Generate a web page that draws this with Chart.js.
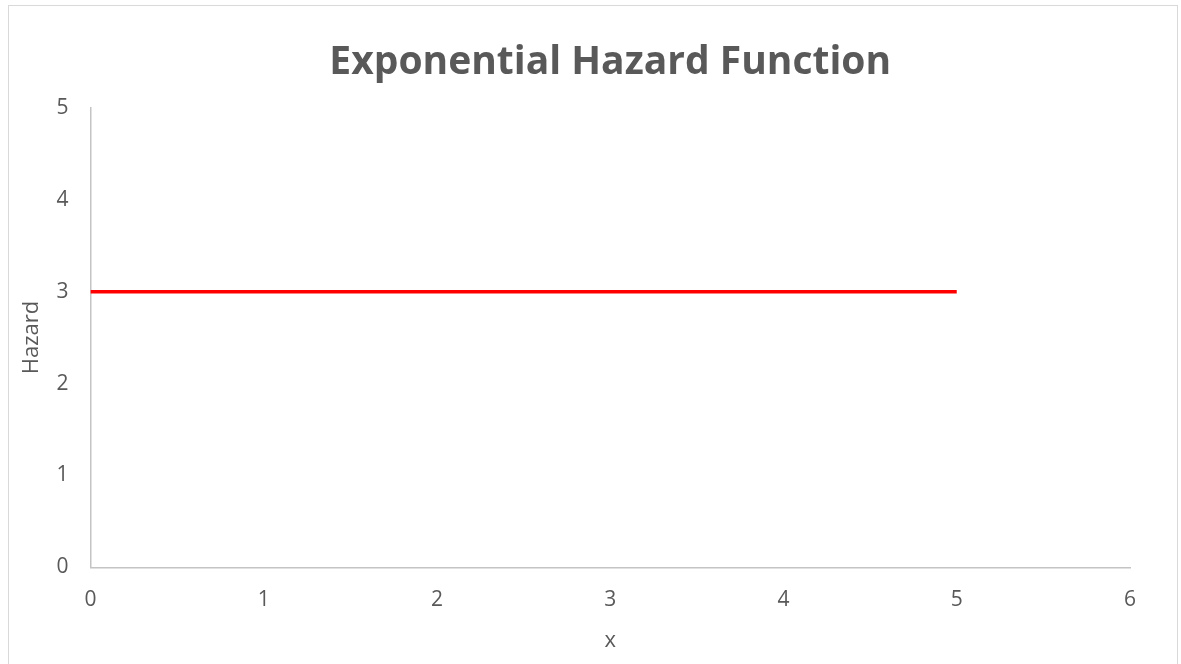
<!DOCTYPE html>
<html>
<head>
<meta charset="utf-8">
<script src="https://cdn.jsdelivr.net/npm/chart.js@4/dist/chart.umd.min.js"></script>
<style>
  html, body { margin: 0; padding: 0; background: #ffffff; overflow: hidden; }
  #frame { position: absolute; left: 8px; top: 5px; width: 1168px; height: 700px;
           border: 1px solid #d9d9d9; background: #fff; }
  #wrap { position: absolute; left: 0; top: 0; width: 1168px; height: 658px; }
</style>
</head>
<body>
<div id="frame"><div id="wrap"><canvas id="c"></canvas></div></div>
<script>
const chartTitle = 'Exponential Hazard Function';
const xAxisTitle = 'x';
const yAxisTitle = 'Hazard';
const xValues = [0, 1, 2, 3, 4, 5];
const hazardValues = [3, 3, 3, 3, 3, 3];
const xTicks = [0, 1, 2, 3, 4, 5, 6];
const yTicks = [0, 1, 2, 3, 4, 5];

const grey = '#595959';
const axisGrey = '#c4c4c4';
const fontFamily = '"Open Sans", "Liberation Sans", sans-serif';

new Chart(document.getElementById('c'), {
  type: 'line',
  data: {
    datasets: [{
      label: 'Hazard',
      data: xValues.map((x, i) => ({ x: x, y: hazardValues[i] })),
      borderColor: '#ff0000',
      borderWidth: 3.5,
      pointRadius: 0,
      fill: false,
      tension: 0
    }]
  },
  options: {
    responsive: true,
    maintainAspectRatio: false,
    animation: false,
    layout: { padding: { left: 10, right: 47, top: 0, bottom: 10 } },
    plugins: {
      legend: { display: false },
      tooltip: { enabled: false },
      title: {
        display: true,
        text: chartTitle,
        fullSize: false,
        color: grey,
        font: { family: fontFamily, size: 39, weight: 'bold' },
        padding: { top: 33, bottom: 22 }
      }
    },
    scales: {
      x: {
        type: 'linear',
        min: 0, max: 6,
        afterBuildTicks: (axis) => { axis.ticks = xTicks.map(v => ({ value: v })); },
        grid: { display: true, drawOnChartArea: false, drawTicks: false },
        border: { display: true, color: axisGrey, width: 1.5 },
        ticks: { color: grey, padding: 20, font: { family: fontFamily, size: 21 } },
        title: { display: true, text: xAxisTitle, color: grey, padding: { top: -5, bottom: 0 },
                 font: { family: fontFamily, size: 22 } }
      },
      y: {
        type: 'linear',
        min: 0, max: 5,
        afterBuildTicks: (axis) => { axis.ticks = yTicks.map(v => ({ value: v })); },
        grid: { display: true, drawOnChartArea: false, drawTicks: false },
        border: { display: true, color: axisGrey, width: 1.5 },
        ticks: { color: grey, padding: 22, font: { family: fontFamily, size: 21 } },
        title: { display: true, text: yAxisTitle, color: grey, padding: { top: 0, bottom: -11 },
                 font: { family: fontFamily, size: 22 } }
      }
    }
  }
});
</script>
</body>
</html>
